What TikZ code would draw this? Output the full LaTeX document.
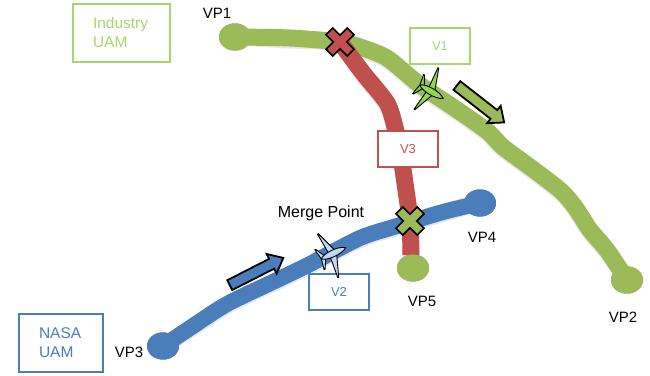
\documentclass[tikz,border=0pt]{standalone}
\usepackage{fontspec}
\setmainfont{Liberation Sans}
\usetikzlibrary{arrows.meta,calc,shapes.geometric}
\definecolor{uamgreen}{HTML}{9BBB59}
\definecolor{uamlight}{HTML}{A5D86C}
\definecolor{uamblue}{HTML}{4A7EBB}
\definecolor{uamred}{HTML}{C0504D}
\definecolor{jetgreen}{HTML}{8FD94A}
\definecolor{jetblue}{HTML}{BFD9F5}
\tikzset{
  road/.style={line width=#1,line cap=round,line join=round},
  roadshade/.style={line width=#1,line cap=round,line join=round,draw=black,opacity=.09},
  lab/.style={font=\fontsize{15}{17}\selectfont,text=black,inner sep=0pt},
  tagbox/.style={draw=#1,line width=2pt,fill=white,text=#1,font=\fontsize{13}{15}\selectfont,align=center,minimum width=60pt,minimum height=36pt,inner sep=0pt},
  groupbox/.style={draw=#1,line width=2pt,fill=white,text=#1,font=\fontsize{15.5}{19}\selectfont,align=left,inner sep=0pt},
  vp/.style={ellipse,fill=#1,inner sep=0pt,minimum width=32pt,minimum height=27pt},
  bigarrow/.style={draw=black,line width=1.8pt,fill=#1,line join=miter},
  crossmark/.style={draw=black,line width=1.7pt,fill=#1,line join=miter},
  jet/.style={draw=black,line width=0.9pt,fill=#1,line join=round},
}
\newcommand{\bigarr}[3]{% centre, angle, colour
  \begin{scope}[shift={(#1)},rotate=#2]
    \draw[bigarrow=#3] (-30,-5.5) -- (17,-5.5) -- (17,-11) -- (30,0) -- (17,11) -- (17,5.5) -- (-30,5.5) -- cycle;
  \end{scope}}
\newcommand{\crossm}[2]{% centre, colour
  \begin{scope}[shift={(#1)},rotate=45]
    \draw[crossmark=#2] (-15,-4.8) -- (-4.8,-4.8) -- (-4.8,-15) -- (4.8,-15) -- (4.8,-4.8) -- (15,-4.8) -- (15,4.8) -- (4.8,4.8) -- (4.8,15) -- (-4.8,15) -- (-4.8,4.8) -- (-15,4.8) -- cycle;
  \end{scope}}
\newcommand{\jetm}[3]{% centre, angle, colour: nose towards +x
  \begin{scope}[shift={(#1)},rotate=#2]
    \draw[jet=#3] (2,2) -- (-6,24) -- (-7,24) -- (-5,2) -- cycle;
    \draw[jet=#3] (2,-2) -- (-6,-24) -- (-7,-24) -- (-5,-2) -- cycle;
    \draw[jet=#3] (-9,0) -- (-15,11) -- (-16,11) -- (-14,0) -- (-16,-11) -- (-15,-11) -- cycle;
    \draw[jet=#3] (-14,0) .. controls (-10,4) and (6,5) .. (13,0) .. controls (6,-5) and (-10,-4) .. (-14,0) -- cycle;
  \end{scope}}
\newcommand{\greenroute}{plot[smooth,tension=.45] coordinates {(vp1.center) (290,38) (xred) (360,47) (387,58) (420,85) (453,107) (487,131) (503,147) (530,167) (560,190) (575,207) (590,230) (607,250) (vp2.center)}}
\newcommand{\redroute}{plot[smooth,tension=.45] coordinates {(xred) (363,73) (387,103) (395,127) (400,150) (406,190) (xgreen) (411,255)}}
\newcommand{\blueroute}{plot[smooth,tension=.45] coordinates {(vp3.center) (190,328) (227,304) (277,280) (310,264) (360,238) (397,226) (443,212) (vp4.center)}}
\begin{document}
\begin{tikzpicture}[x=1pt,y=-1pt]
\useasboundingbox (0,0) rectangle (650,375);
\fill[white] (0,0) rectangle (650,375);

\node[vp=uamgreen] (vp1) at (235,37) {};
\node[vp=uamgreen] (vp2) at (627,280) {};
\node[vp=uamblue] (vp3) at (163,346) {};
\node[vp=uamblue] (vp4) at (480,203) {};
\node[vp=uamgreen] (vp5) at (413,268) {};

\coordinate (xred) at (340,42);
\coordinate (xgreen) at (410,221);

% soft shadows under routes and end points
\begin{scope}[shift={(0,2)}]
  \draw[roadshade=17pt] \greenroute;
  \draw[roadshade=17pt,line cap=butt] \redroute;
  \draw[roadshade=16pt] \blueroute;
\end{scope}
\begin{scope}[shift={(0,3)}]
  \fill[black,opacity=.13] (vp1.center) ellipse[x radius=16,y radius=14];
  \fill[black,opacity=.13] (vp2.center) ellipse[x radius=16,y radius=14];
  \fill[black,opacity=.13] (vp3.center) ellipse[x radius=16,y radius=14];
  \fill[black,opacity=.13] (vp4.center) ellipse[x radius=16,y radius=14];
  \fill[black,opacity=.13] (vp5.center) ellipse[x radius=16,y radius=14];
\end{scope}

% routes
\draw[road=17pt,uamgreen] \greenroute;
\draw[road=17pt,uamred,line cap=butt] \redroute;
\draw[road=16pt,uamblue] \blueroute;

% end points on top of the routes
\node[vp=uamgreen] at (vp1) {};
\node[vp=uamgreen] at (vp2) {};
\node[vp=uamblue] at (vp3) {};
\node[vp=uamblue] at (vp4) {};
\node[vp=uamgreen] at (vp5) {};

\crossm{xred}{uamred}
\crossm{xgreen}{uamgreen}

\bigarr{480.5,104}{-38}{uamgreen}
\bigarr{256.5,271.5}{27}{uamblue}

% boxes
\node[groupbox=uamlight,minimum width=97pt,minimum height=58pt,text width=57pt] (industry) at (121.5,32.5) {Industry\\UAM};
\node[groupbox=uamblue,minimum width=84pt,minimum height=58pt,text width=44pt] (nasa) at (61,342.5) {NASA\\UAM};
\node[tagbox=uamlight] (v1) at (440,46) {V1};
\node[tagbox=uamred] (v3) at (408,149) {V3};
\node[tagbox=uamblue] (v2) at (339,292) {V2};

\jetm{432,92}{-30}{jetgreen}
\jetm{334,253}{25}{jetblue}

% labels
\node[lab] (lvp1) at (217,13) {VP1};
\node[lab] (lvp2) at (623,317) {VP2};
\node[lab] (lvp3) at (129,352) {VP3};
\node[lab] (lvp4) at (482,237) {VP4};
\node[lab] (lvp5) at (422,301) {VP5};
\node[lab,font=\fontsize{16}{18}\selectfont] (merge) at (321,213) {Merge Point};
\end{tikzpicture}
\end{document}
